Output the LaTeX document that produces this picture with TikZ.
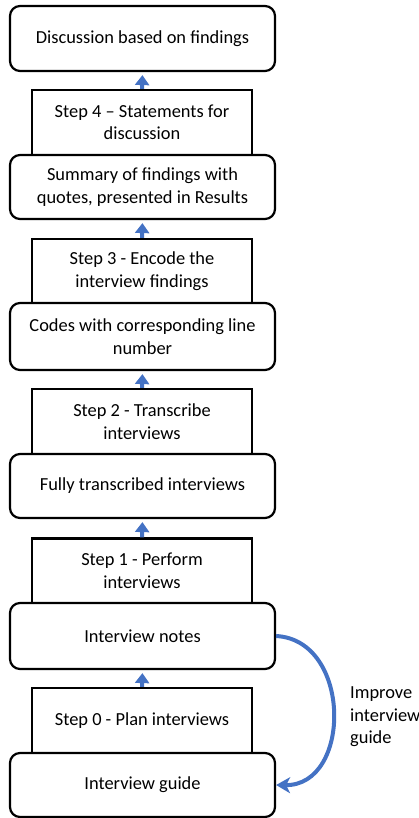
\documentclass[tikz,border=0pt]{standalone}
\usepackage{fontspec}
\setmainfont{Carlito}
\usetikzlibrary{arrows.meta}
\definecolor{flowblue}{HTML}{4472C4}
\tikzset{
  outcome/.style={draw=black, line width=2.2pt, rounded corners=10pt, fill=white,
    minimum width=265pt, align=center, inner sep=0pt},
  stepbox/.style={draw=black, line width=2.2pt, fill=white,
    minimum width=220pt, align=center, inner sep=0pt},
  uparrow/.style={draw=flowblue, line width=4pt,
    -{Triangle[length=10pt,width=14pt]}, shorten >=3pt},
  loopback/.style={draw=flowblue, line width=4pt,
    -{Stealth[length=14pt,width=16pt,inset=4pt]}},
  every node/.style={font=\fontsize{18.4}{22.5}\selectfont}
}
\begin{document}
\begin{tikzpicture}[x=1pt,y=-1pt]
  \useasboundingbox (0,0) rectangle (418,818);

  % process steps (drawn first, the outcome boxes overlap their lower edge)
  \node[stepbox, minimum height=65pt] (s4) at (142,122.5) {Step 4 -- Statements for\\discussion};
  \node[stepbox, minimum height=64pt] (s3) at (142,271) {Step 3 - Encode the\\interview findings};
  \node[stepbox, minimum height=65pt] (s2) at (142,421.5) {Step 2 - Transcribe\\interviews};
  \node[stepbox, minimum height=65pt] (s1) at (142,571) {Step 1 - Perform\\interviews};
  \node[stepbox, minimum height=65pt] (s0) at (142,720.5) {Step 0 - Plan interviews};

  % outcomes of each step
  \node[outcome, minimum height=65pt] (d) at (142.5,38.5) {Discussion based on findings};
  \node[outcome, minimum height=64pt] (r3) at (142.5,187) {Summary of findings with\\quotes, presented in Results};
  \node[outcome, minimum height=67pt] (r2) at (142.5,336.5) {Codes with corresponding line\\number};
  \node[outcome, minimum height=64pt] (r1) at (142.5,486) {Fully transcribed interviews};
  \node[outcome, minimum height=66pt] (r0) at (142.5,636) {Interview notes};
  \node[outcome, minimum height=64pt] (rg) at (142.5,785) {Interview guide};

  % flow upwards
  \draw[uparrow] (s4.north) -- (d.south);
  \draw[uparrow] (s3.north) -- (r3.south);
  \draw[uparrow] (s2.north) -- (r2.south);
  \draw[uparrow] (s1.north) -- (r1.south);
  \draw[uparrow] (s0.north) -- (r0.south);

  % feedback loop
  \draw[loopback] (r0.east) .. controls (352,640) and (352,786) .. (rg.east);
  \node[align=left, anchor=west, inner sep=0pt] (imp) at (350,717) {Improve\\interview\\guide};
\end{tikzpicture}
\end{document}
